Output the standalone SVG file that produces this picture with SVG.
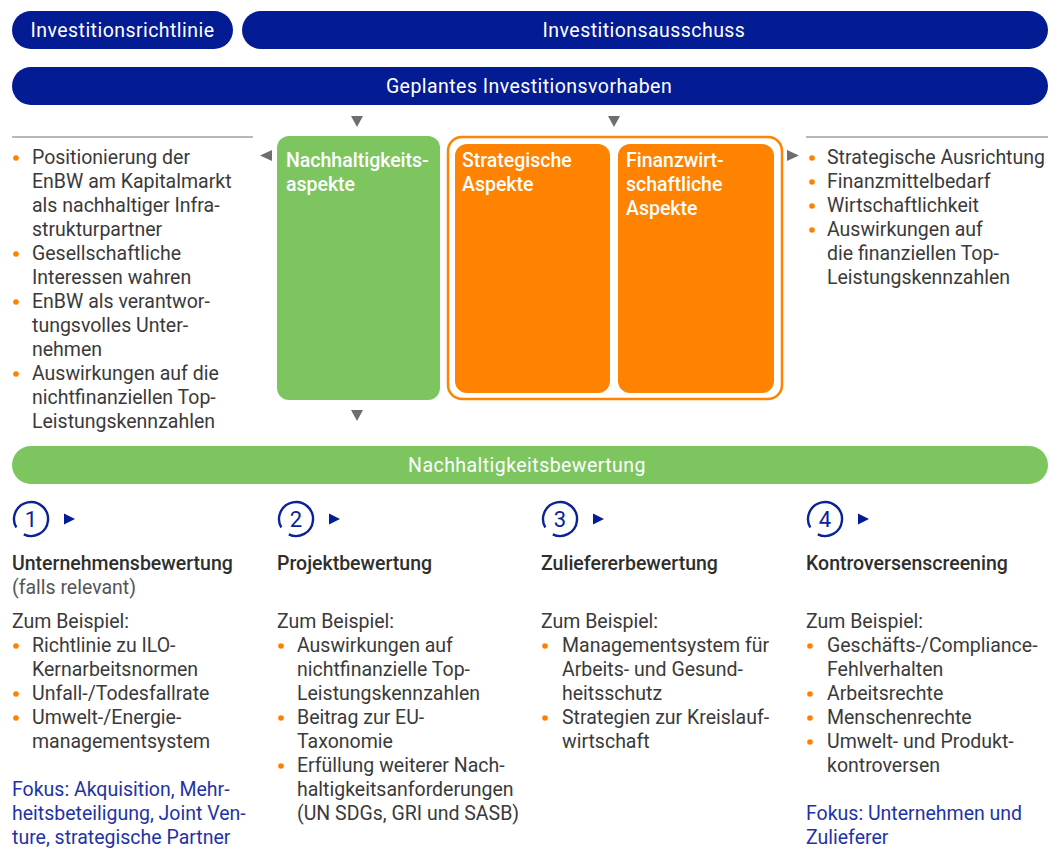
<svg xmlns="http://www.w3.org/2000/svg" width="1063" height="852" viewBox="0 0 1063 852">
<defs>
<style>
text{font-family:Roboto,"Liberation Sans",sans-serif;font-size:19.5px;fill:#3a3a3a}
.hb{fill:#fff;font-size:19.5px;letter-spacing:0.45px}
.bt{fill:#fff;font-weight:500}
.h{font-weight:500;fill:#2e2e2e}
.g{fill:#555}
.f{fill:#1f33a6}
.b{fill:#ff8000}
.navy{fill:#031c94}
.green{fill:#7dc65f}
.orange{fill:#ff8200}
.tri{fill:#6e6e6e}
.num{fill:#0a2396;font-size:22px}
.circ{fill:none;stroke:#0a2396;stroke-width:2.4}
.rule{stroke:#a0a0a0;stroke-width:1.5}
</style>
</defs>

<g id="investitionsrichtlinie">
<rect class="navy" x="12" y="11" width="221" height="38" rx="19"/>
<text class="hb" x="122.5" y="37" text-anchor="middle">Investitionsrichtlinie</text>
</g>
<g id="investitionsausschuss">
<rect class="navy" x="242" y="11" width="806" height="38" rx="19"/>
<text class="hb" x="644" y="37" text-anchor="middle">Investitionsausschuss</text>
</g>
<g id="investitionsvorhaben">
<rect class="navy" x="12" y="67" width="1036" height="38" rx="19"/>
<text class="hb" x="529" y="93" text-anchor="middle">Geplantes Investitionsvorhaben</text>
</g>

<g id="connectors">
<polygon class="tri" points="351,116 363,116 357,127"/>
<polygon class="tri" points="608,116 620,116 614,127"/>
<polygon class="tri" points="272,150 272,161 260,155.5"/>
<polygon class="tri" points="787,150 787,161 799,155.5"/>
<polygon class="tri" points="351,410 363,410 357,421"/>
<line class="rule" x1="12" y1="137" x2="253" y2="137"/>
<line class="rule" x1="806" y1="137" x2="1048" y2="137"/>
</g>

<g id="left-list">
<circle class="b" cx="16" cy="158" r="2.8"/>
<text x="32" y="164">Positionierung der</text>
<text x="32" y="188">EnBW am Kapitalmarkt</text>
<text x="32" y="212">als nachhaltiger Infra-</text>
<text x="32" y="236">strukturpartner</text>
<circle class="b" cx="16" cy="254" r="2.8"/>
<text x="32" y="260">Gesellschaftliche</text>
<text x="32" y="284">Interessen wahren</text>
<circle class="b" cx="16" cy="302" r="2.8"/>
<text x="32" y="308">EnBW als verantwor-</text>
<text x="32" y="332">tungsvolles Unter-</text>
<text x="32" y="356">nehmen</text>
<circle class="b" cx="16" cy="374" r="2.8"/>
<text x="32" y="380">Auswirkungen auf die</text>
<text x="32" y="404">nichtfinanziellen Top-</text>
<text x="32" y="428">Leistungskennzahlen</text>
</g>

<g id="nachhaltigkeitsaspekte">
<rect class="green" x="277" y="136" width="163" height="264" rx="12"/>
<text class="bt" x="286" y="167">Nachhaltigkeits-</text>
<text class="bt" x="286" y="191">aspekte</text>
</g>

<g id="wirtschaftliche-aspekte">
<rect x="448" y="137" width="334" height="262" rx="14" fill="#fff" stroke="#ff8200" stroke-width="2.5"/>
</g>
<g id="strategische-aspekte">
<rect class="orange" x="455" y="144" width="155" height="249" rx="12"/>
<text class="bt" x="462" y="167">Strategische</text>
<text class="bt" x="462" y="191">Aspekte</text>
</g>
<g id="finanzwirtschaftliche-aspekte">
<rect class="orange" x="618" y="144" width="156" height="249" rx="12"/>
<text class="bt" x="626" y="167">Finanzwirt-</text>
<text class="bt" x="626" y="191">schaftliche</text>
<text class="bt" x="626" y="215">Aspekte</text>
</g>

<g id="right-list">
<circle class="b" cx="812" cy="158" r="2.8"/>
<text x="827" y="164">Strategische Ausrichtung</text>
<circle class="b" cx="812" cy="182" r="2.8"/>
<text x="827" y="188">Finanzmittelbedarf</text>
<circle class="b" cx="812" cy="206" r="2.8"/>
<text x="827" y="212">Wirtschaftlichkeit</text>
<circle class="b" cx="812" cy="230" r="2.8"/>
<text x="827" y="236">Auswirkungen auf</text>
<text x="827" y="260">die finanziellen Top-</text>
<text x="827" y="284">Leistungskennzahlen</text>
</g>

<g id="nachhaltigkeitsbewertung">
<rect class="green" x="12" y="446" width="1036" height="38" rx="19"/>
<text class="hb" x="527" y="472" text-anchor="middle">Nachhaltigkeitsbewertung</text>
</g>

<g id="step1">
<path class="circ" d="M16.3,527.5 A17,17 0 1 1 23.8,534.4"/>
<text class="num" x="31" y="526.5" text-anchor="middle">1</text>
<polygon class="navy" points="64,513.5 64,524.5 75,519"/>
<text class="h" x="12" y="570">Unternehmensbewertung</text>
<text class="g" x="12" y="594">(falls relevant)</text>
<text x="12" y="628">Zum Beispiel:</text>
<circle class="b" cx="16" cy="646" r="2.8"/>
<text x="32" y="652">Richtlinie zu ILO-</text>
<text x="32" y="676">Kernarbeitsnormen</text>
<circle class="b" cx="16" cy="694" r="2.8"/>
<text x="32" y="700">Unfall-/Todesfallrate</text>
<circle class="b" cx="16" cy="718" r="2.8"/>
<text x="32" y="724">Umwelt-/Energie-</text>
<text x="32" y="748">managementsystem</text>
<text class="f" x="12" y="796">Fokus: Akquisition, Mehr-</text>
<text class="f" x="12" y="820">heitsbeteiligung, Joint Ven-</text>
<text class="f" x="12" y="844">ture, strategische Partner</text>
</g>

<g id="step2">
<path class="circ" d="M281.3,527.5 A17,17 0 1 1 288.8,534.4"/>
<text class="num" x="296" y="526.5" text-anchor="middle">2</text>
<polygon class="navy" points="329,513.5 329,524.5 340,519"/>
<text class="h" x="277" y="570">Projektbewertung</text>
<text x="277" y="628">Zum Beispiel:</text>
<circle class="b" cx="281" cy="646" r="2.8"/>
<text x="297" y="652">Auswirkungen auf</text>
<text x="297" y="676">nichtfinanzielle Top-</text>
<text x="297" y="700">Leistungskennzahlen</text>
<circle class="b" cx="281" cy="718" r="2.8"/>
<text x="297" y="724">Beitrag zur EU-</text>
<text x="297" y="748">Taxonomie</text>
<circle class="b" cx="281" cy="766" r="2.8"/>
<text x="297" y="772">Erfüllung weiterer Nach-</text>
<text x="297" y="796">haltigkeitsanforderungen</text>
<text x="297" y="820">(UN SDGs, GRI und SASB)</text>
</g>

<g id="step3">
<path class="circ" d="M545.3,527.5 A17,17 0 1 1 552.8,534.4"/>
<text class="num" x="560" y="526.5" text-anchor="middle">3</text>
<polygon class="navy" points="593,513.5 593,524.5 604,519"/>
<text class="h" x="541" y="570">Zuliefererbewertung</text>
<text x="541" y="628">Zum Beispiel:</text>
<circle class="b" cx="545" cy="646" r="2.8"/>
<text x="562" y="652">Managementsystem für</text>
<text x="562" y="676">Arbeits- und Gesund-</text>
<text x="562" y="700">heitsschutz</text>
<circle class="b" cx="545" cy="718" r="2.8"/>
<text x="562" y="724">Strategien zur Kreislauf-</text>
<text x="562" y="748">wirtschaft</text>
</g>

<g id="step4">
<path class="circ" d="M810.3,527.5 A17,17 0 1 1 817.8,534.4"/>
<text class="num" x="825" y="526.5" text-anchor="middle">4</text>
<polygon class="navy" points="858,513.5 858,524.5 869,519"/>
<text class="h" x="806" y="570">Kontroversenscreening</text>
<text x="806" y="628">Zum Beispiel:</text>
<circle class="b" cx="810" cy="646" r="2.8"/>
<text x="827" y="652">Geschäfts-/Compliance-</text>
<text x="827" y="676">Fehlverhalten</text>
<circle class="b" cx="810" cy="694" r="2.8"/>
<text x="827" y="700">Arbeitsrechte</text>
<circle class="b" cx="810" cy="718" r="2.8"/>
<text x="827" y="724">Menschenrechte</text>
<circle class="b" cx="810" cy="742" r="2.8"/>
<text x="827" y="748">Umwelt- und Produkt-</text>
<text x="827" y="772">kontroversen</text>
<text class="f" x="806" y="820">Fokus: Unternehmen und</text>
<text class="f" x="806" y="844">Zulieferer</text>
</g>
</svg>
